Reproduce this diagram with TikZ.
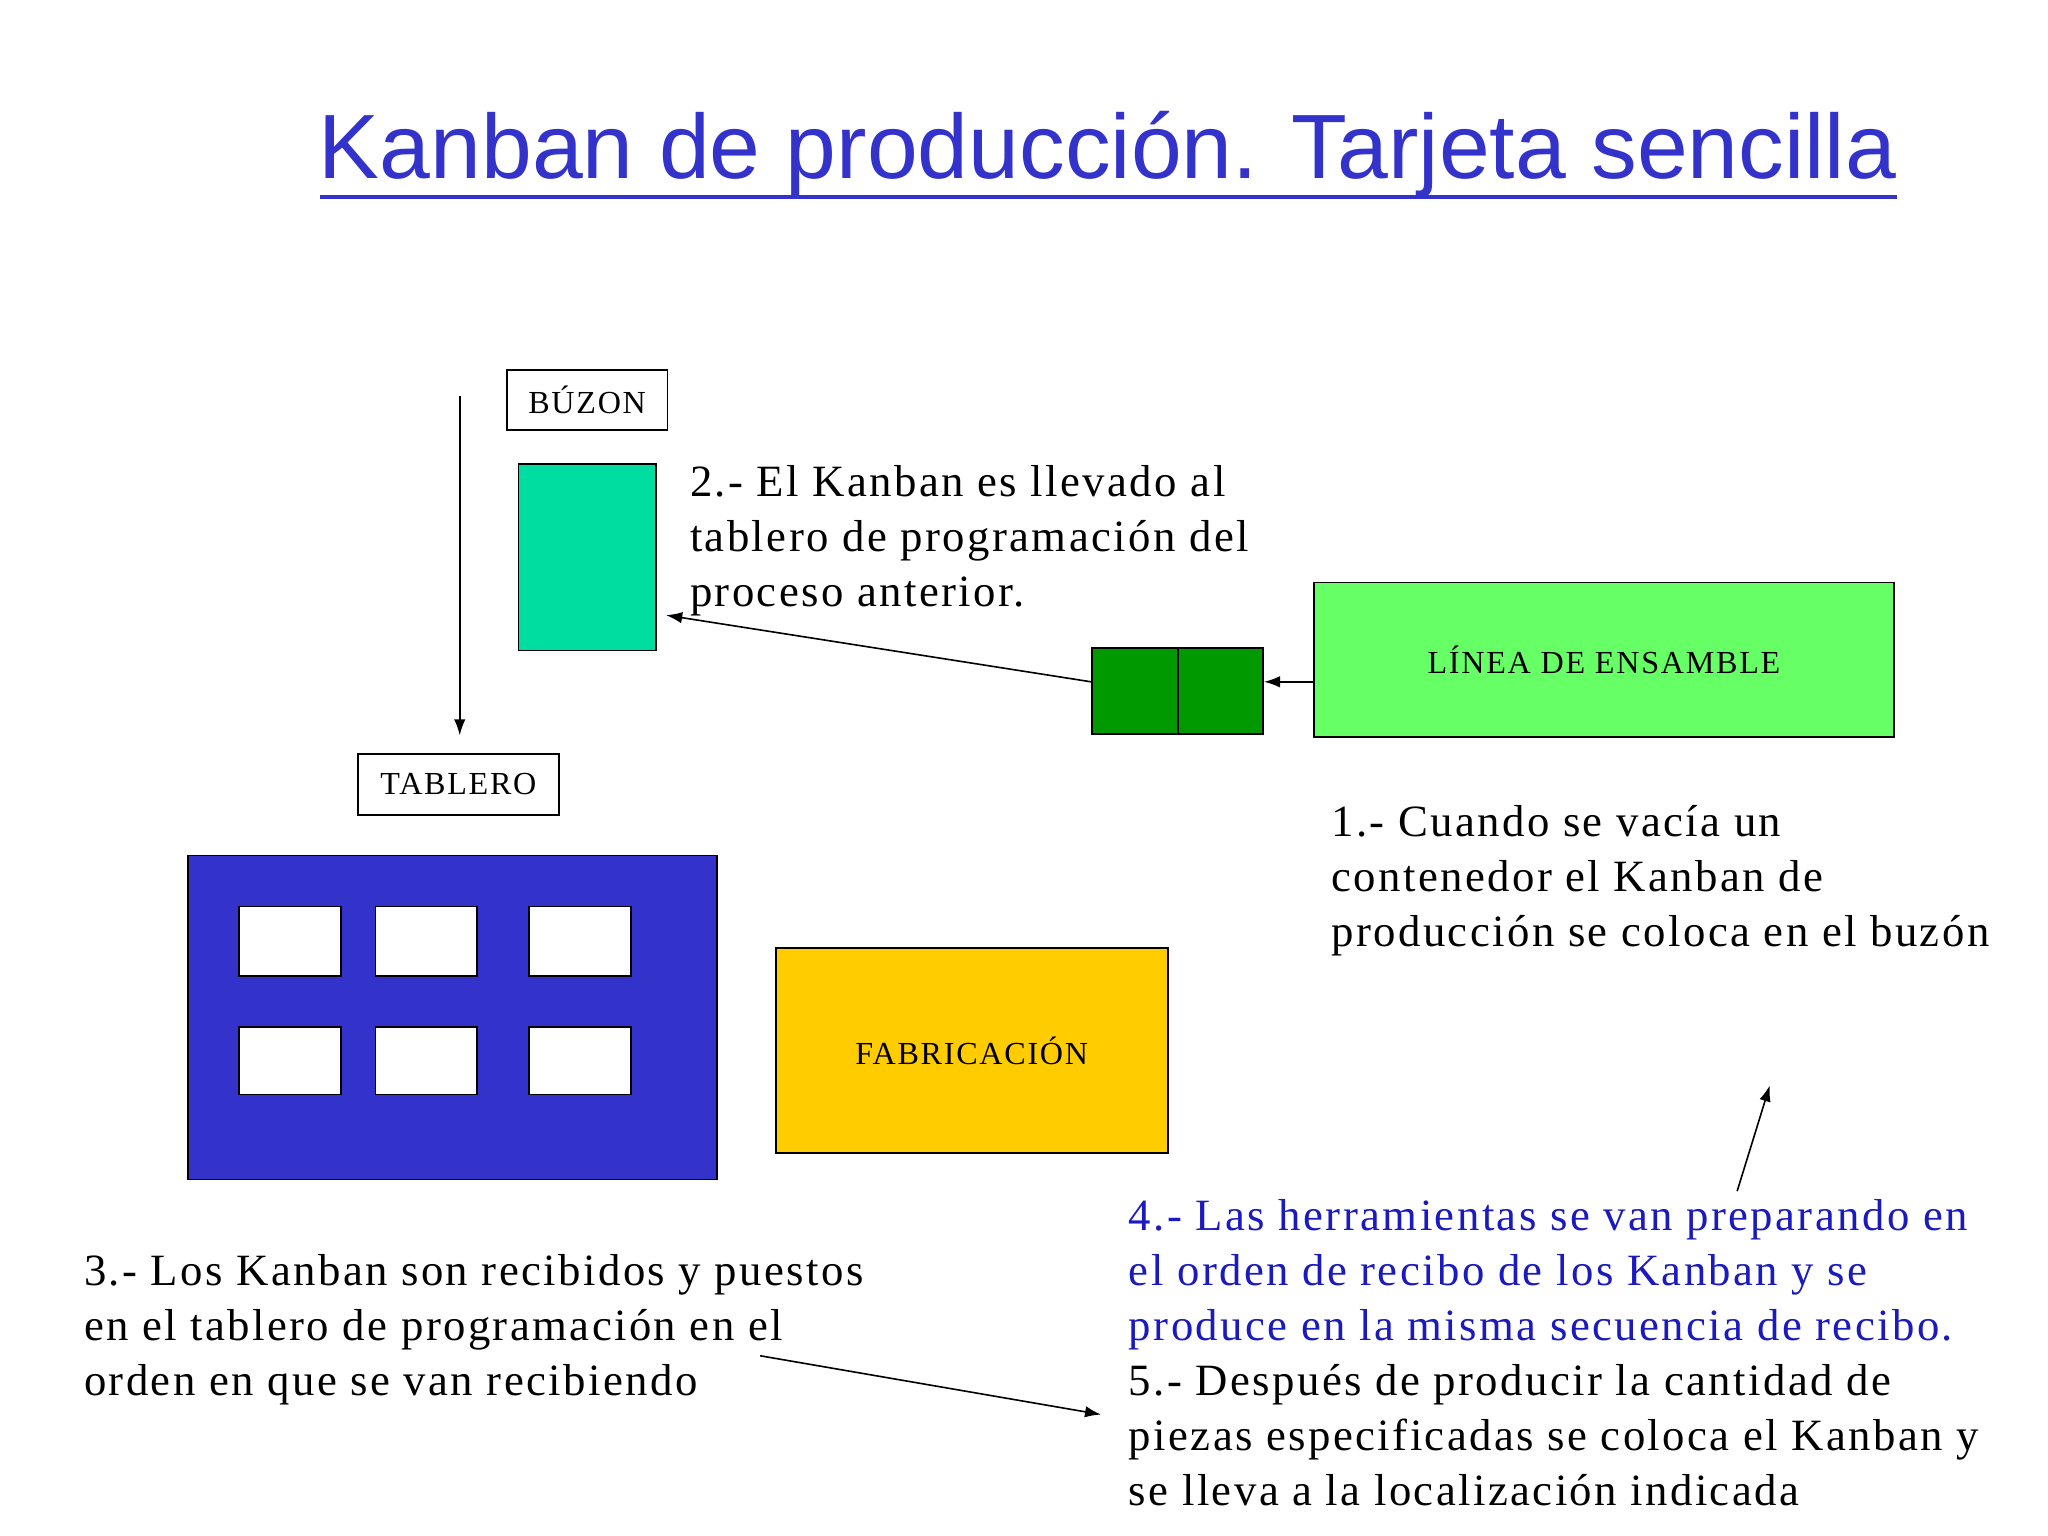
\documentclass[tikz,border=0pt]{standalone}
\usepackage{fontspec}
\setmainfont{Liberation Serif}[LetterSpace=5.4]
\newfontfamily\titlefont{Liberation Sans}
\usetikzlibrary{arrows.meta}
\definecolor{ttl}{HTML}{3333CC}
\definecolor{teal}{HTML}{00DDA0}
\definecolor{dgreen}{HTML}{009900}
\definecolor{lgreen}{HTML}{66FF66}
\definecolor{board}{HTML}{3333CC}
\definecolor{gold}{HTML}{FFCC00}
\definecolor{bluetxt}{HTML}{1A1ABF}
\begin{document}
\begin{tikzpicture}[x=0.02cm,y=-0.02cm,
  lbl/.style={draw=black,line width=0.8pt,fill=white,inner sep=0pt,font=\fontsize{14}{16}\selectfont},
  blk/.style={draw=black,line width=0.8pt,inner sep=0pt},
  body/.style={anchor=north west,align=left,inner sep=0pt,font=\fontsize{19.5}{24}\selectfont},
  arr/.style={-{Latex[length=7pt,width=5pt]},line width=0.7pt}]
\useasboundingbox (0,0) rectangle (1568,1176);
\node[font=\titlefont\fontsize{39.8}{46}\selectfont,text=ttl,inner sep=0pt] (title) at (848,118) {Kanban de producción. Tarjeta sencilla};
\draw[ttl,line width=1.8pt] (245,151) -- (1452,151);
% buzon
\node[lbl,minimum width=123*0.02cm,minimum height=46*0.02cm] (buzon) at (449.5,306) {BÚZON};
\node[blk,fill=teal,minimum width=105*0.02cm,minimum height=143*0.02cm] (teal) at (449.5,426.5) {};
\coordinate (vtop) at (352,303);
\coordinate (vbot) at (352,563);
\draw[arr] (vtop) -- (vbot);
\node[body] (t2) at (528,356) {2.- El Kanban es llevado al\\tablero de programación del\\proceso anterior.};
\node[blk,fill=dgreen,minimum width=66*0.02cm,minimum height=66*0.02cm] (g1) at (869,529) {};
\node[blk,fill=dgreen,minimum width=65*0.02cm,minimum height=66*0.02cm] (g2) at (934.5,529) {};
\node[blk,fill=lgreen,minimum width=444*0.02cm,minimum height=118*0.02cm,font=\fontsize{14}{16}\selectfont] (linea) at (1228,505) {LÍNEA DE ENSAMBLE};
\coordinate (tealpt) at (510,471);
\draw[arr] ([yshift=0.14cm]g1.west) -- (tealpt);
\draw[arr] ([yshift=0.14cm]linea.west |- g2.east) -- ([yshift=0.14cm]g2.east);
% tablero
\node[lbl,minimum width=154*0.02cm,minimum height=47*0.02cm] (tablero) at (351,600.5) {TABLERO};
\node[blk,fill=board,minimum width=405*0.02cm,minimum height=248*0.02cm] (board) at (346.5,779) {};
\foreach \x/\n in {222/a,326.5/b,444/c}{
  \node[blk,fill=white,minimum width=78*0.02cm,minimum height=53*0.02cm] (w1\n) at (\x,720.5) {};
  \node[blk,fill=white,minimum width=78*0.02cm,minimum height=52*0.02cm] (w2\n) at (\x,812) {};
}
\node[blk,fill=gold,minimum width=300*0.02cm,minimum height=157*0.02cm,font=\fontsize{14}{16}\selectfont] (fab) at (744,804.5) {FABRICACIÓN};
\node[body] (t1) at (1019,616) {1.- Cuando se vacía un\\contenedor el Kanban de\\producción se coloca en el buzón};
\node[body] (t4) at (864,918) {\textcolor{bluetxt}{4.- Las herramientas se van preparando en}\\\textcolor{bluetxt}{el orden de recibo de los Kanban y se}\\\textcolor{bluetxt}{produce en la misma secuencia de recibo.}\\5.- Después de producir la cantidad de\\piezas especificadas se coloca el Kanban y\\se lleva a la localización indicada};
\node[body] (t3) at (64,960) {3.- Los Kanban son recibidos y puestos\\en el tablero de programación en el\\orden en que se van recibiendo};
\coordinate (a4s) at (1330,912);
\coordinate (a4e) at (1355,831);
\draw[arr] (a4s) -- (a4e);
\coordinate (a3s) at (582,1038);
\coordinate (a3e) at (843,1083);
\draw[arr] (a3s) -- (a3e);
\end{tikzpicture}
\end{document}
